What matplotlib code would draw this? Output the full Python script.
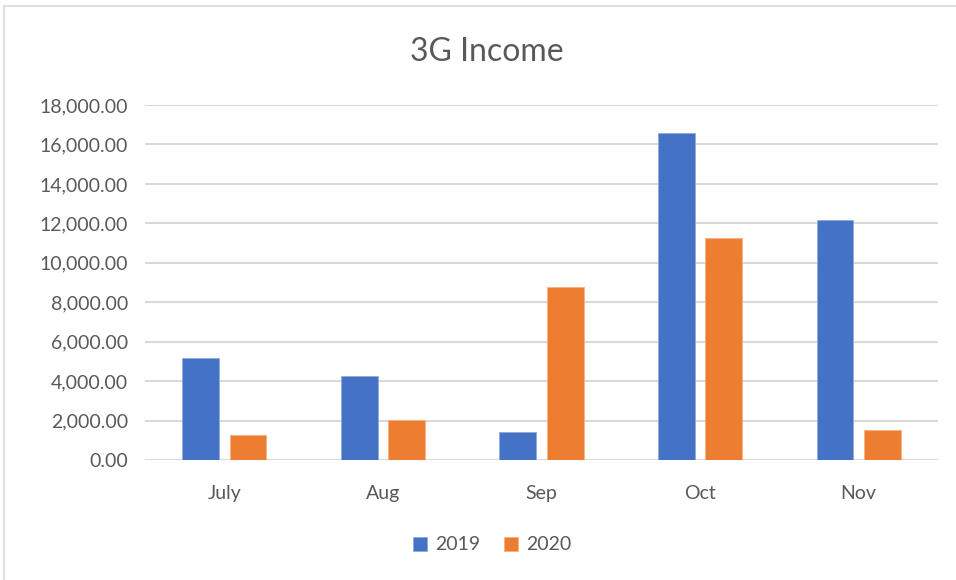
import matplotlib
matplotlib.use("Agg")
import matplotlib.pyplot as plt
from matplotlib.patches import Rectangle
import numpy as np

categories = ["July", "Aug", "Sep", "Oct", "Nov"]
series_names = ["2019", "2020"]
values_2019 = [5180, 4270, 1400, 16560, 12150]
values_2020 = [1280, 2040, 8750, 11240, 1540]
yticks = [0, 2000, 4000, 6000, 8000, 10000, 12000, 14000, 16000, 18000]

plt.rcParams['font.family'] = ['Lato', 'DejaVu Sans']

W, H = 956, 580
fig = plt.figure(figsize=(W/100, H/100), dpi=100)
fig.patch.set_facecolor("white")

# outer chart border
fig.patches.append(Rectangle((4/W, -0.1), 1.1, 1 - 6/H + 0.1, transform=fig.transFigure,
                             fill=False, edgecolor="#D9D9D9", linewidth=1.2))

ax = fig.add_axes([145/W, 1 - 460/H, (938-145)/W, (460-105)/H])
x = np.arange(len(categories))
w = 0.232
ax.bar(x - 0.15, values_2019, w, color="#4472C4", edgecolor="#8FAADC", linewidth=0.6,
       label=series_names[0], zorder=3)
ax.bar(x + 0.15, values_2020, w, color="#ED7D31", edgecolor="#F4B183", linewidth=0.6,
       label=series_names[1], zorder=3)

ax.set_xlim(-0.5, len(categories) - 0.5)
ax.set_ylim(0, 18000)
ax.set_yticks(yticks)
ax.set_yticklabels([f"{v:,.2f}" for v in yticks])
ax.set_xticks(x)
ax.set_xticklabels(categories)
ax.tick_params(axis="both", length=0, labelsize=14, colors="#595959")
ax.tick_params(axis="y", pad=12)
ax.tick_params(axis="x", pad=18)
ax.grid(axis="y", color="#D9D9D9", linewidth=1.5, zorder=0)
for s in ax.spines.values():
    s.set_visible(False)

fig.text(487/W, 1 - 52/H, "3G Income", ha="center", va="center", fontsize=23, color="#595959")

leg = fig.legend(loc="center", bbox_to_anchor=(492/W, 1 - 545/H), ncol=2, frameon=False,
                 fontsize=14, handlelength=0.75, handleheight=0.75, handletextpad=0.4,
                 columnspacing=1.2, labelcolor="#595959")

fig.savefig("out.png", dpi=100)
